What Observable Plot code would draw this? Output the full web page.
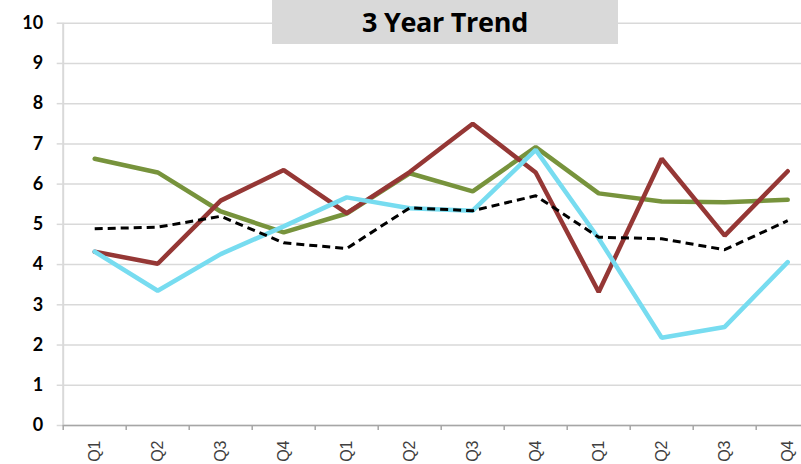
<!DOCTYPE html>
<html>
<head>
<meta charset="utf-8">
<script src="https://cdn.jsdelivr.net/npm/d3@7"></script>
<script src="https://cdn.jsdelivr.net/npm/@observablehq/plot@0.6"></script>
<style>
  html, body { margin: 0; padding: 0; background: #fff; }
  #wrap { position: relative; width: 801px; height: 464px; overflow: hidden; }
  #title {
    position: absolute; left: 272px; top: 0; width: 346px; height: 44px;
    background: #d9d9d9; color: #000;
    font: bold 27px "Open Sans", sans-serif; text-align: center; line-height: 44px;
    letter-spacing: -0.3px;
  }
</style>
</head>
<body>
<div id="wrap"><div id="title">3 Year Trend</div></div>
<script>
const quarterLabels = ["Q1","Q2","Q3","Q4","Q1","Q2","Q3","Q4","Q1","Q2","Q3","Q4"];
const yTicks = [0,1,2,3,4,5,6,7,8,9,10];
const greenSeries = [6.63, 6.29, 5.32, 4.80, 5.27, 6.27, 5.82, 6.92, 5.77, 5.57, 5.55, 5.61];
const redSeries   = [4.32, 4.02, 5.59, 6.35, 5.28, 6.30, 7.50, 6.29, 3.32, 6.63, 4.72, 6.32];
const blueSeries  = [4.32, 3.35, 4.26, 4.95, 5.67, 5.40, 5.34, 6.85, 4.65, 2.18, 2.45, 4.06];
const blackSeries = [4.89, 4.93, 5.20, 4.54, 4.40, 5.41, 5.34, 5.71, 4.68, 4.64, 4.37, 5.09];

const X = (d, i) => i + 0.5;
const Y = d => d;
const boundaries = d3.range(quarterLabels.length + 1);

const chart = Plot.plot({
  width: 801,
  height: 464,
  marginTop: 22.7,
  marginBottom: 39,
  marginLeft: 62.7,
  marginRight: 0,
  x: { type: "linear", domain: [0, quarterLabels.length], range: [62.7, 818.7] },
  y: { domain: [0, 10], range: [425, 22.7] },
  style: { background: "#fff" },
  marks: [
    Plot.gridY(yTicks, { stroke: "#d9d9d9", strokeOpacity: 1, strokeWidth: 1.5 }),
    Plot.axisY(yTicks, {
      tickSize: 6, tickPadding: 14, stroke: "#d9d9d9", strokeWidth: 1.5,
      fontFamily: "Lato, sans-serif", fontWeight: "bold", fontSize: 18, fill: "#000",
      label: null
    }),
    Plot.ruleX([0], { y1: 0, y2: 10, stroke: "#d9d9d9", strokeWidth: 2 }),
    Plot.line(greenSeries, { x: X, y: Y, stroke: "#77933c", strokeWidth: 4.5, strokeLinejoin: "miter" }),
    Plot.line(redSeries,   { x: X, y: Y, stroke: "#953735", strokeWidth: 4.5, strokeLinejoin: "miter" }),
    Plot.line(blueSeries,  { x: X, y: Y, stroke: "#77dcf0", strokeWidth: 4.5, strokeLinejoin: "miter" }),
    Plot.line(blackSeries, { x: X, y: Y, stroke: "#000", strokeWidth: 3, strokeDasharray: "8,5", strokeLinecap: "butt" }),
    Plot.ruleY([0], { stroke: "#a6a6a6", strokeWidth: 1.5 }),
    Plot.axisX(boundaries, { tickSize: 5, tickFormat: () => "", stroke: "#a6a6a6", strokeWidth: 1.5, label: null }),
    Plot.text(quarterLabels, {
      x: X, frameAnchor: "bottom", dy: 15, rotate: -90,
      textAnchor: "end", lineAnchor: "middle",
      fontFamily: "'Liberation Sans', Arial, sans-serif", fontSize: 16, fill: "#404040"
    })
  ]
});
document.getElementById("wrap").prepend(chart);
</script>
</body>
</html>
